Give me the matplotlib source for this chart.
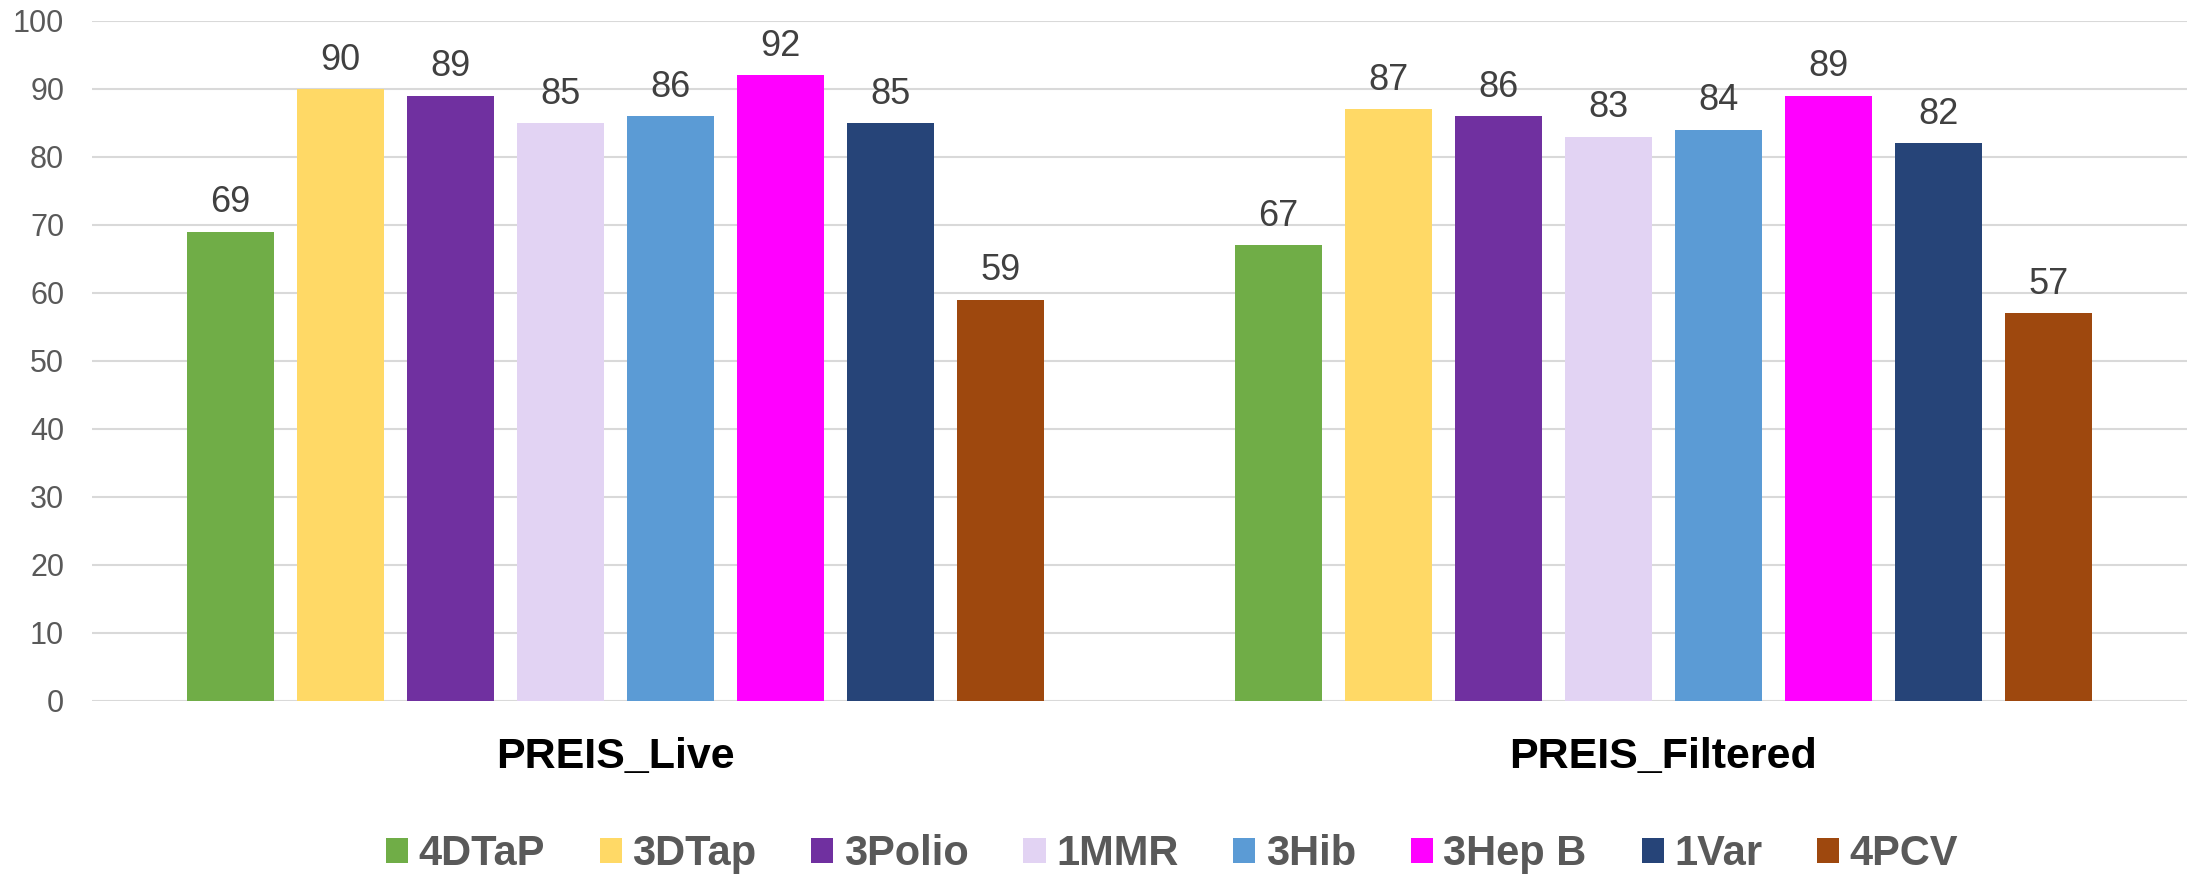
import matplotlib
matplotlib.use("Agg")
import matplotlib.pyplot as plt
from matplotlib.patches import Patch
import numpy as np

plt.rcParams['font.family'] = ['Liberation Sans', 'DejaVu Sans']

categories = ["PREIS_Live", "PREIS_Filtered"]
series = ["4DTaP", "3DTap", "3Polio", "1MMR", "3Hib", "3Hep B", "1Var", "4PCV"]
live_values = [69, 90, 89, 85, 86, 92, 85, 59]
filtered_values = [67, 87, 86, 83, 84, 89, 82, 57]
colors = ["#70AD47", "#FFD966", "#7030A0", "#E2D3F3", "#5B9BD5", "#FF00FF", "#264478", "#9E480E"]
yticks = [0, 10, 20, 30, 40, 50, 60, 70, 80, 90, 100]

W, H = 2187, 875
fig = plt.figure(figsize=(W / 100, H / 100), dpi=100)
ax = fig.add_axes([92 / W, 1 - 701 / H, (2187 - 92) / W, 680 / H])

x = np.arange(len(categories))
slot = 110 / 1047.5
bw = 87 / 1047.5
values = np.array([live_values, filtered_values])
for i, (name, col) in enumerate(zip(series, colors)):
    pos = x + (i - 3.5) * slot
    vals = values[:, i]
    ax.bar(pos, vals, width=bw, color=col, zorder=3, label=name)
    for px, v in zip(pos, vals):
        ax.annotate(f"{v}", (px, v), xytext=(0, 14), textcoords="offset points",
                    ha="center", va="baseline", fontsize=26, color="#404040")

ax.set_xlim(-0.5, 1.5)
ax.set_ylim(0, 100)
ax.set_yticks(yticks)
ax.set_xticks(x)
ax.set_xticklabels(categories, fontsize=31, fontweight="bold", color="black")
ax.tick_params(axis="x", length=0, pad=26)
ax.tick_params(axis="y", length=0, pad=20, labelsize=22, labelcolor="#595959")
ax.yaxis.grid(True, color="#D9D9D9", linewidth=1.5, zorder=0)
ax.set_axisbelow(True)
for s in ax.spines.values():
    s.set_visible(False)

handles = [Patch(facecolor=c, edgecolor="none", label=n) for n, c in zip(series, colors)]
leg = fig.legend(handles=handles, loc="center", bbox_to_anchor=(1172 / W, 1 - 854 / H),
                 ncol=8, frameon=False, handlelength=0.53, handleheight=0.53,
                 handletextpad=0.25, columnspacing=1.32,
                 prop={"size": 30, "weight": "bold"})
for t in leg.get_texts():
    t.set_color("#595959")

fig.savefig("out.png", dpi=100)
